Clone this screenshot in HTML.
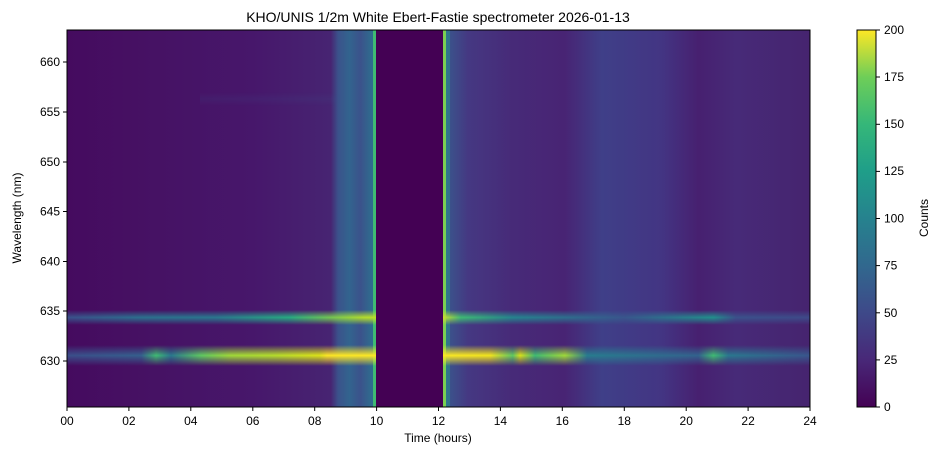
<!DOCTYPE html>
<html><head><style>
body{margin:0;background:#fff;width:941px;height:461px;overflow:hidden;font-family:"Liberation Sans",sans-serif}
svg text{font-family:"Liberation Sans",sans-serif;fill:#000}
</style></head><body>
<svg width="941" height="461" xmlns="http://www.w3.org/2000/svg">
<defs>
<linearGradient id="bg" x1="67" x2="810" y1="0" y2="0" gradientUnits="userSpaceOnUse">
<stop offset="0" stop-color="#450b5f"/>
<stop offset="0.12" stop-color="#461264"/>
<stop offset="0.25" stop-color="#47176b"/>
<stop offset="0.355" stop-color="#472472"/>
<stop offset="0.365" stop-color="#3b528b"/>
<stop offset="0.38" stop-color="#32648e"/>
<stop offset="0.395" stop-color="#3b528b"/>
<stop offset="0.41" stop-color="#2f6c8e"/>
<stop offset="0.505" stop-color="#2f6c8e"/>
<stop offset="0.515" stop-color="#3b528b"/>
<stop offset="0.54" stop-color="#453882"/>
<stop offset="0.6" stop-color="#472a78"/>
<stop offset="0.67" stop-color="#482474"/>
<stop offset="0.72" stop-color="#3f3f88"/>
<stop offset="0.8" stop-color="#433583"/>
<stop offset="0.85" stop-color="#472070"/>
<stop offset="0.9" stop-color="#472a78"/>
<stop offset="1" stop-color="#46246f"/>
</linearGradient>
<linearGradient id="l1" x1="67" x2="810" y1="0" y2="0" gradientUnits="userSpaceOnUse">
<stop offset="0" stop-color="#3b4f8a"/>
<stop offset="0.1" stop-color="#35608d"/>
<stop offset="0.12" stop-color="#3fbc73"/>
<stop offset="0.14" stop-color="#2a788e"/>
<stop offset="0.18" stop-color="#5ec962"/>
<stop offset="0.22" stop-color="#a0da39"/>
<stop offset="0.28" stop-color="#b5de2b"/>
<stop offset="0.34" stop-color="#dde318"/>
<stop offset="0.35" stop-color="#fde725"/>
<stop offset="0.42" stop-color="#fde725"/>
<stop offset="0.5" stop-color="#fde725"/>
<stop offset="0.57" stop-color="#f1e51d"/>
<stop offset="0.6" stop-color="#5ec962"/>
<stop offset="0.61" stop-color="#d8e219"/>
<stop offset="0.63" stop-color="#3fbc73"/>
<stop offset="0.67" stop-color="#a0da39"/>
<stop offset="0.7" stop-color="#287d8e"/>
<stop offset="0.85" stop-color="#33638d"/>
<stop offset="0.87" stop-color="#3fbc73"/>
<stop offset="0.89" stop-color="#2a788e"/>
<stop offset="1" stop-color="#39568c"/>
</linearGradient>
<linearGradient id="l2" x1="67" x2="810" y1="0" y2="0" gradientUnits="userSpaceOnUse">
<stop offset="0" stop-color="#3b518b"/>
<stop offset="0.1" stop-color="#2c718e"/>
<stop offset="0.2" stop-color="#2a788e"/>
<stop offset="0.3" stop-color="#27ad81"/>
<stop offset="0.4" stop-color="#b5de2b"/>
<stop offset="0.5" stop-color="#f1e51d"/>
<stop offset="0.53" stop-color="#3fbc73"/>
<stop offset="0.6" stop-color="#25858e"/>
<stop offset="0.75" stop-color="#39568c"/>
<stop offset="0.87" stop-color="#21918c"/>
<stop offset="0.9" stop-color="#3b528b"/>
<stop offset="1" stop-color="#3e4a89"/>
</linearGradient>
<mask id="mv" maskContentUnits="objectBoundingBox"><rect width="1" height="1" fill="url(#vw)"/></mask>
<linearGradient id="vw" x1="0" x2="0" y1="0" y2="1">
<stop offset="0" stop-color="#fff" stop-opacity="0"/>
<stop offset="0.5" stop-color="#fff" stop-opacity="1"/>
<stop offset="1" stop-color="#fff" stop-opacity="0"/>
</linearGradient>
<linearGradient id="cb" x1="0" x2="0" y1="1" y2="0">
<stop offset="0" stop-color="#440154"/>
<stop offset="0.125" stop-color="#482878"/>
<stop offset="0.25" stop-color="#3e4989"/>
<stop offset="0.375" stop-color="#31688e"/>
<stop offset="0.5" stop-color="#26828e"/>
<stop offset="0.625" stop-color="#1f9e89"/>
<stop offset="0.75" stop-color="#35b779"/>
<stop offset="0.875" stop-color="#6ece58"/>
<stop offset="1" stop-color="#fde725"/>
</linearGradient>
</defs>
<rect x="67" y="30" width="743" height="377" fill="url(#bg)"/>
<rect x="200" y="92" width="140" height="14" fill="#3b4f8a" opacity="0.15" mask="url(#mv)"/>
<rect x="373" y="30" width="3" height="377" fill="#3fbc73"/>
<rect x="443" y="30" width="3" height="377" fill="#7ad151"/>
<rect x="446" y="30" width="4" height="377" fill="#2a8a8c" opacity="0.6"/>
<rect x="67" y="310" width="743" height="15" fill="url(#l2)" mask="url(#mv)"/>
<rect x="67" y="345" width="743" height="21" fill="url(#l1)" mask="url(#mv)"/>
<rect x="376" y="30" width="67" height="377" fill="#440154"/>
<rect x="67" y="30" width="743" height="377" fill="none" stroke="#000" stroke-width="1"/>
<g stroke="#000" stroke-width="1">
<line x1="67" y1="407" x2="67" y2="411"/><line x1="128.9" y1="407" x2="128.9" y2="411"/><line x1="190.8" y1="407" x2="190.8" y2="411"/><line x1="252.8" y1="407" x2="252.8" y2="411"/><line x1="314.7" y1="407" x2="314.7" y2="411"/><line x1="376.6" y1="407" x2="376.6" y2="411"/><line x1="438.5" y1="407" x2="438.5" y2="411"/><line x1="500.4" y1="407" x2="500.4" y2="411"/><line x1="562.3" y1="407" x2="562.3" y2="411"/><line x1="624.3" y1="407" x2="624.3" y2="411"/><line x1="686.2" y1="407" x2="686.2" y2="411"/><line x1="748.1" y1="407" x2="748.1" y2="411"/><line x1="810" y1="407" x2="810" y2="411"/>
<line x1="63" y1="62" x2="67" y2="62"/><line x1="63" y1="112" x2="67" y2="112"/><line x1="63" y1="162" x2="67" y2="162"/><line x1="63" y1="211.5" x2="67" y2="211.5"/><line x1="63" y1="261.5" x2="67" y2="261.5"/><line x1="63" y1="311" x2="67" y2="311"/><line x1="63" y1="361" x2="67" y2="361"/>
</g>
<g font-size="12" text-anchor="middle">
<text x="67" y="425">00</text><text x="128.9" y="425">02</text><text x="190.8" y="425">04</text><text x="252.8" y="425">06</text><text x="314.7" y="425">08</text><text x="376.6" y="425">10</text><text x="438.5" y="425">12</text><text x="500.4" y="425">14</text><text x="562.3" y="425">16</text><text x="624.3" y="425">18</text><text x="686.2" y="425">20</text><text x="748.1" y="425">22</text><text x="810" y="425">24</text>
</g>
<g font-size="12" text-anchor="end">
<text x="60" y="66">660</text><text x="60" y="116">655</text><text x="60" y="166">650</text><text x="60" y="215.5">645</text><text x="60" y="265.5">640</text><text x="60" y="315">635</text><text x="60" y="365">630</text>
</g>
<text x="438" y="442" font-size="12" text-anchor="middle">Time (hours)</text>
<text transform="translate(21,218) rotate(-90)" font-size="12" text-anchor="middle">Wavelength (nm)</text>
<text x="438" y="22" font-size="14" text-anchor="middle">KHO/UNIS 1/2m White Ebert-Fastie spectrometer 2026-01-13</text>
<rect x="857" y="30" width="19" height="377" fill="url(#cb)" stroke="#000" stroke-width="1"/>
<g stroke="#000"><line x1="876" y1="30" x2="880" y2="30"/><line x1="876" y1="77" x2="880" y2="77"/><line x1="876" y1="124.3" x2="880" y2="124.3"/><line x1="876" y1="171.4" x2="880" y2="171.4"/><line x1="876" y1="218.5" x2="880" y2="218.5"/><line x1="876" y1="265.6" x2="880" y2="265.6"/><line x1="876" y1="312.8" x2="880" y2="312.8"/><line x1="876" y1="359.9" x2="880" y2="359.9"/><line x1="876" y1="407" x2="880" y2="407"/></g>
<g font-size="12">
<text x="884" y="34">200</text><text x="884" y="81">175</text><text x="884" y="128">150</text><text x="884" y="175">125</text><text x="884" y="222.5">100</text><text x="884" y="269.5">75</text><text x="884" y="317">50</text><text x="884" y="364">25</text><text x="884" y="411">0</text>
</g>
<text transform="translate(928,218) rotate(-90)" font-size="12" text-anchor="middle">Counts</text>
</svg>
</body></html>
